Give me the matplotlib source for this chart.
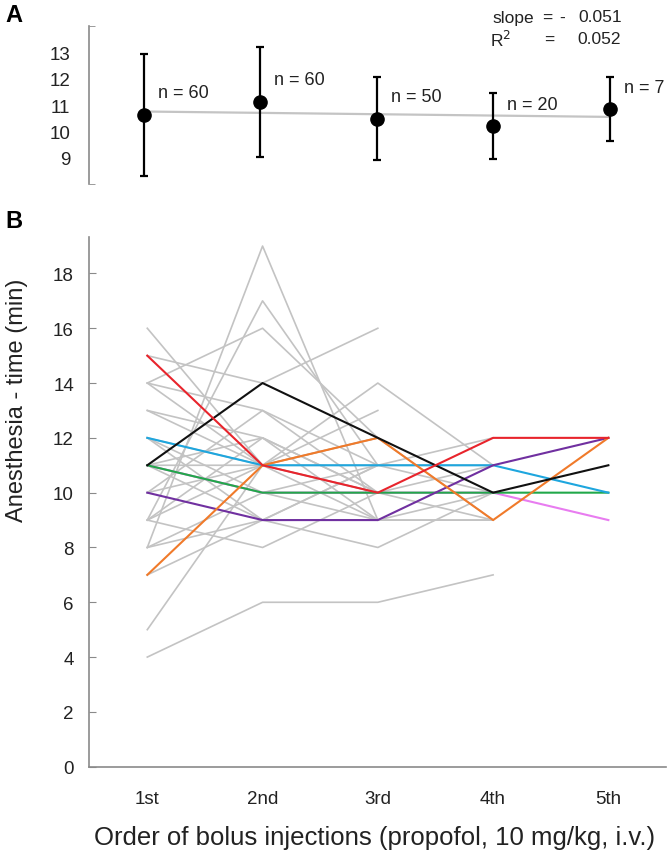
import matplotlib
matplotlib.use("Agg")
import matplotlib.pyplot as plt
import numpy as np

plt.rcParams['font.family'] = ['Liberation Sans', 'DejaVu Sans']

# ---------------- Panel A data ----------------
orders = [1, 2, 3, 4, 5]
order_labels = ["1st", "2nd", "3rd", "4th", "5th"]
mean_time = [10.63, 11.12, 10.48, 10.20, 10.84]
sd_time = [2.30, 2.07, 1.57, 1.25, 1.21]
n_counts = [60, 60, 50, 20, 7]
fit_slope = -0.051
fit_intercept = 10.81
r_squared = 0.052

# ---------------- Panel B data ----------------
N = None
gray_lines = [
    [16, 11, 10, N, N],
    [15, 14, 16, N, N],
    [14, 16, 12, N, N],
    [8, 19, 9, N, N],
    [9, 17, 11, N, N],
    [14, 11, 14, 11, N],
    [13, 11, 13, N, N],
    [12, 11, 11, 12, N],
    [11, 12, 10, 9, N],
    [11, 10, 9, 9, N],
    [10, 13, 11, 10, N],
    [9, 8, 10, N, N],
    [11, 9, 8, 10, N],
    [8, 10, 10, 11, N],
    [8, 9, 11, N, N],
    [5, 11, 10, N, N],
    [4, 6, 6, 7, N],
    [9, 11, 9, 10, N],
    [12, 10, 11, 11, N],
    [13, 12, 9, N, N],
    [11, 11, 12, N, N],
    [9, 12, 10, N, N],
    [7, 9, 11, N, N],
    [10, 11, 12, 9, N],
    [14, 13, 10, N, N],
    [12, 9, 9, 9, N],
]
colored_lines = {
    "#e87cf0": [11, 10, 10, 10, 9],
    "#22a84a": [11, 10, 10, 10, 10],
    "#1ea6de": [12, 11, 11, 11, 10],
    "#7030a0": [10, 9, 9, 11, 12],
    "#f07a2a": [7, 11, 12, 9, 12],
    "#111111": [11, 14, 12, 10, 11],
    "#e8242c": [15, 11, 10, 12, 12],
}

W, H = 668, 853
fig = plt.figure(figsize=(W / 100, H / 100), dpi=100)

axis_gray = "#8a8a8a"
text_col = "#222222"

# ---------------- Panel A ----------------
axA = fig.add_axes([89.5 / W, 1 - 185.4 / H, (W - 89.5) / W, (185.4 - 26.9) / H])
xs = np.array(orders, dtype=float)
axA.plot([xs[0], xs[-1]], [fit_intercept + fit_slope * xs[0], fit_intercept + fit_slope * xs[-1]],
         color="#c4c4c4", lw=1.6, zorder=1)
axA.errorbar(xs, mean_time, yerr=sd_time, fmt='o', color='black', ms=9.5,
             elinewidth=1.6, capsize=2.6, capthick=1.6, zorder=3)
for x, m, n in zip(xs, mean_time, n_counts):
    axA.annotate(f"n = {n}", (x, m), xytext=(10, 16), textcoords='offset points',
                 fontsize=13, color=text_col, va='center', ha='left')
axA.set_xlim(0.533, 5.5)
axA.set_ylim(8, 14)
axA.set_yticks([9, 10, 11, 12, 13])
axA.set_yticklabels(["9", "10", "11", "12", "13"])
axA.set_yticks([8, 14], minor=True)
axA.tick_params(axis='y', which='major', length=0, pad=14, labelsize=13.5, labelcolor=text_col)
axA.tick_params(axis='y', which='minor', length=4, direction='in', color=axis_gray)
axA.set_xticks([])
for s in ["top", "right", "bottom"]:
    axA.spines[s].set_visible(False)
axA.spines["left"].set_color(axis_gray)
axA.spines["left"].set_linewidth(1.2)
axA.patch.set_alpha(0)

fig.text(492 / W, 1 - 18 / H, "slope", fontsize=12.5, color=text_col, ha='left', va='center')
fig.text(547 / W, 1 - 18 / H, "=", fontsize=12.5, color=text_col, ha='center', va='center')
fig.text(562 / W, 1 - 18 / H, "-", fontsize=12.5, color=text_col, ha='center', va='center')
fig.text(622 / W, 1 - 18 / H, f"{abs(fit_slope):.3f}", fontsize=12.5, color=text_col, ha='right', va='center')
fig.text(490 / W, 1 - 40 / H, "R$^2$", fontsize=12.5, color=text_col, ha='left', va='center')
fig.text(549 / W, 1 - 40 / H, "=", fontsize=12.5, color=text_col, ha='center', va='center')
fig.text(621 / W, 1 - 40 / H, f"{r_squared:.3f}", fontsize=12.5, color=text_col, ha='right', va='center')

fig.text(5 / W, 1 - 15 / H, "A", fontsize=17, fontweight='bold', ha='left', va='center')
fig.text(5 / W, 1 - 222 / H, "B", fontsize=17, fontweight='bold', ha='left', va='center')

# ---------------- Panel B ----------------
axB = fig.add_axes([89.2 / W, 1 - 767.7 / H, (666 - 89.2) / W, (767.7 - 238) / H])
for vals in gray_lines:
    y = np.array([np.nan if v is None else v for v in vals], dtype=float)
    axB.plot(orders, y, color="#c3c3c3", lw=1.2, zorder=1)
for col, vals in colored_lines.items():
    axB.plot(orders, vals, color=col, lw=1.5, zorder=2)
axB.set_xlim(0.496, 5.5)
axB.set_ylim(0, 19.33)
axB.set_yticks(range(0, 19, 2))
axB.set_xticks(orders)
axB.set_xticklabels(order_labels)
axB.tick_params(axis='y', length=5, direction='in', color=axis_gray, pad=11, labelsize=13.5, labelcolor=text_col)
axB.tick_params(axis='x', length=0, pad=17, labelsize=13.5, labelcolor=text_col)
for s in ["top", "right"]:
    axB.spines[s].set_visible(False)
for s in ["left", "bottom"]:
    axB.spines[s].set_color(axis_gray)
    axB.spines[s].set_linewidth(1.2)

fig.text(375 / W, 1 - 838 / H, "Order of bolus injections (propofol, 10 mg/kg, i.v.)",
         fontsize=18.5, color=text_col, ha='center', va='center')
fig.text(17 / W, 1 - 400 / H, "Anesthesia - time (min)", fontsize=17, color=text_col,
         ha='center', va='center', rotation=90)

fig.savefig("out.png", dpi=100)
